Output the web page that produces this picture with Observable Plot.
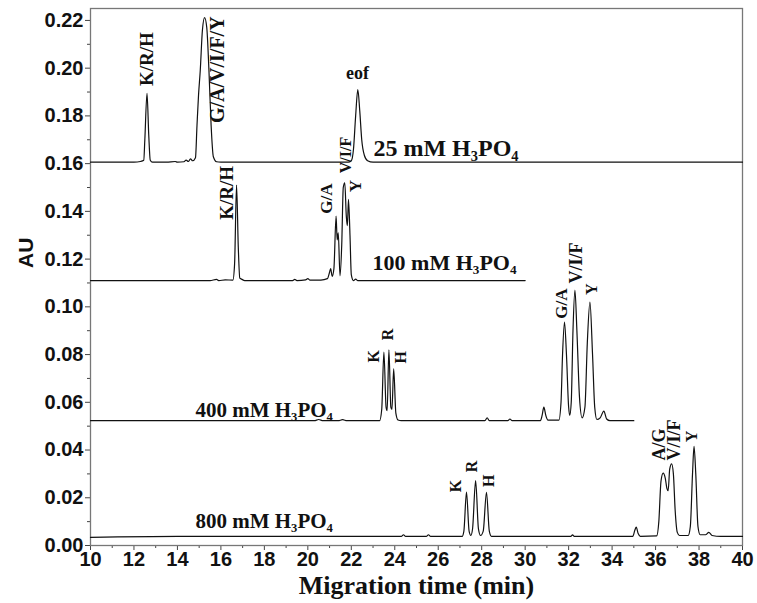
<!DOCTYPE html>
<html><head><meta charset="utf-8">
<script src="https://cdn.jsdelivr.net/npm/d3@7"></script>
<script src="https://cdn.jsdelivr.net/npm/@observablehq/plot@0.6"></script>
<style>body{margin:0;background:#fff} svg{display:block}</style>
</head><body><div id="chart"></div>
<script>
const xTicks = [10,12,14,16,18,20,22,24,26,28,30,32,34,36,38,40];
const xMinorTicks = [11,13,15,17,19,21,23,25,27,29,31,33,35,37,39];
const yTicks = [0,0.02,0.04,0.06,0.08,0.10,0.12,0.14,0.16,0.18,0.20,0.22];
const yMinorTicks = [0.01,0.03,0.05,0.07,0.09,0.11,0.13,0.15,0.17,0.19,0.21];

// [time (min), AU]
const trace25 = [[10,0.1606],[12.0,0.1606],[12.3,0.1609],[12.45,0.1614],[12.5,0.170],[12.6,0.1895],[12.68,0.172],[12.75,0.1614],[12.85,0.1606],[13.5,0.1606],[13.9,0.1609],[14.0,0.1606],[14.3,0.1608],[14.4,0.1615],[14.5,0.1609],[14.6,0.162],[14.7,0.1612],[14.83,0.1625],[14.9,0.176],[14.97,0.1886],[15.05,0.199],[15.15,0.216],[15.25,0.2212],[15.35,0.217],[15.45,0.199],[15.55,0.176],[15.65,0.163],[15.8,0.1608],[16,0.1606],[21.85,0.1606],[22.0,0.1612],[22.1,0.166],[22.2,0.180],[22.3,0.191],[22.39,0.182],[22.48,0.170],[22.6,0.1635],[22.75,0.1612],[23,0.1606],[40,0.1606]];
const trace100 = [[10,0.1110],[15.5,0.1110],[15.8,0.1115],[15.9,0.1110],[16.2,0.1113],[16.55,0.1112],[16.63,0.118],[16.72,0.151],[16.8,0.125],[16.87,0.112],[16.95,0.1116],[17.1,0.1110],[19.3,0.1110],[19.4,0.1115],[19.5,0.1110],[19.9,0.1113],[20.0,0.1118],[20.1,0.1112],[20.6,0.1112],[20.9,0.1118],[21.0,0.1145],[21.05,0.116],[21.12,0.1128],[21.2,0.116],[21.3,0.138],[21.35,0.128],[21.4,0.131],[21.48,0.113],[21.56,0.126],[21.63,0.150],[21.7,0.152],[21.77,0.138],[21.82,0.134],[21.87,0.145],[21.94,0.130],[22.0,0.1135],[22.1,0.1110],[22.2,0.1116],[22.3,0.1110],[30,0.1110]];
const trace400 = [[10,0.0523],[20.3,0.0523],[20.5,0.0528],[20.7,0.0523],[21.4,0.0523],[21.6,0.0527],[21.8,0.0523],[23.3,0.0523],[23.4,0.057],[23.5,0.081],[23.6,0.058],[23.65,0.0565],[23.73,0.082],[23.82,0.058],[23.87,0.057],[23.95,0.074],[24.05,0.0555],[24.15,0.0526],[24.3,0.0523],[28.15,0.0523],[28.25,0.0535],[28.35,0.0523],[29.2,0.0523],[29.3,0.053],[29.4,0.0523],[30.7,0.0523],[30.78,0.0545],[30.86,0.058],[30.95,0.0545],[31.05,0.0525],[31.55,0.0525],[31.65,0.060],[31.72,0.080],[31.81,0.0936],[31.9,0.080],[32.0,0.058],[32.05,0.0545],[32.12,0.060],[32.2,0.090],[32.29,0.107],[32.38,0.090],[32.5,0.062],[32.62,0.0535],[32.75,0.058],[32.86,0.085],[32.98,0.102],[33.1,0.080],[33.2,0.058],[33.3,0.0528],[33.45,0.0535],[33.62,0.0563],[33.75,0.053],[33.9,0.0523],[35,0.0523]];
const trace800 = [[10,0.0034],[14,0.0038],[24.3,0.0038],[24.4,0.0045],[24.5,0.0038],[25.45,0.0038],[25.55,0.0045],[25.65,0.0038],[27.1,0.0038],[27.18,0.006],[27.3,0.0224],[27.42,0.006],[27.5,0.0042],[27.58,0.007],[27.72,0.0272],[27.85,0.007],[27.95,0.0042],[28.07,0.006],[28.22,0.0223],[28.35,0.006],[28.45,0.0038],[32.1,0.0038],[32.18,0.0045],[32.26,0.0038],[34.95,0.0038],[35.05,0.0065],[35.11,0.0077],[35.2,0.005],[35.3,0.0038],[36.05,0.004],[36.15,0.010],[36.25,0.027],[36.35,0.0303],[36.45,0.028],[36.52,0.024],[36.58,0.023],[36.65,0.032],[36.74,0.0342],[36.82,0.030],[36.9,0.015],[37.0,0.0055],[37.1,0.0042],[37.5,0.0042],[37.6,0.008],[37.7,0.030],[37.77,0.0415],[37.85,0.030],[37.95,0.008],[38.05,0.0045],[38.3,0.0045],[38.45,0.0055],[38.6,0.0042],[39,0.0038],[40,0.0038]];

// peak labels: text, time, AU at text start (bottom), font size
const peakText = ["K/R/H","G/A/V/I/F/Y","K/R/H","G/A","V/I/F","Y","K","R","H","G/A","V/I/F","Y","K","R","H","A/G","V/I/F","Y"];
const peakTime = [12.58,15.85,16.26,20.86,21.75,22.2,23.03,23.7,24.27,31.67,32.36,33.06,26.8,27.57,28.33,36.15,36.84,37.68];
const peakAU   = [0.1925,0.177,0.1365,0.139,0.156,0.148,0.0767,0.086,0.0763,0.095,0.1098,0.105,0.0223,0.0307,0.0245,0.0356,0.0356,0.0433];
const peakSize = [19,20,19,17,16,17,16,16,16,17,18,16,16,16,16,18,18,16];

const eofText = ["eof"], eofTime = [22.29], eofAU = [0.1955];

const condText = ["25 mM H₃PO₄","100 mM H₃PO₄","400 mM H₃PO₄","800 mM H₃PO₄"];
const condTime = [23.02,22.98,14.83,14.83];
const condAU   = [0.1634,0.1153,0.054,0.0075];
const condSize = [24,22,21,21];

const rows = [];
[["25",trace25],["100",trace100],["400",trace400],["800",trace800]].forEach(([k,arr]) =>
  arr.forEach(([t,v]) => rows.push({trace:k,t,v})));
const peaks = peakText.map((s,i)=>({s,t:peakTime[i],v:peakAU[i],f:peakSize[i]}));
const conds = condText.map((s,i)=>({s,t:condTime[i],v:condAU[i],f:condSize[i]}));
const eofs = eofText.map((s,i)=>({s,t:eofTime[i],v:eofAU[i]}));

const serif = "'Liberation Serif','Times New Roman',serif";
const sans = "'Liberation Sans',Arial,sans-serif";

const chart = Plot.plot({
  width:757, height:603,
  marginLeft:90, marginRight:15, marginTop:8, marginBottom:58,
  x:{domain:[10,40]},
  y:{domain:[0,0.225]},
  style:{background:"#fff", color:"#111"},
  marks:[
    Plot.axisY(yMinorTicks,{tickSize:3, text:null, label:null, stroke:"#444"}),
    Plot.axisY(yTicks,{tickSize:5, tickPadding:2, tickFormat:d=>d.toFixed(2), label:null, fontSize:20, fontWeight:"bold", fontFamily:sans, stroke:"#444", fill:"#111"}),
    Plot.axisX(xMinorTicks,{tickSize:3, text:null, label:null, stroke:"#444"}),
    Plot.axisX(xTicks,{tickSize:5, tickPadding:1, label:null, fontSize:20, fontWeight:"bold", fontFamily:sans, stroke:"#444", fill:"#111"}),
    Plot.frame({stroke:"#777", strokeWidth:1.3}),
    Plot.line(rows,{x:"t", y:"v", z:"trace", curve:"monotone-x", stroke:"#111", strokeWidth:1.2}),
    Plot.text(peaks,{x:"t", y:"v", text:"s", rotate:-90, textAnchor:"start", lineAnchor:"middle", fontSize:"f", fontWeight:"bold", fontFamily:serif, fill:"#111"}),
    Plot.text(eofs,{x:"t", y:"v", text:"s", textAnchor:"middle", lineAnchor:"bottom", fontSize:18, fontWeight:"bold", fontFamily:serif, fill:"#111"}),
    Plot.text(conds,{x:"t", y:"v", text:"s", textAnchor:"start", lineAnchor:"bottom", fontSize:"f", fontWeight:"bold", fontFamily:serif, fill:"#111"}),
    Plot.text(["AU"],{frameAnchor:"left", dx:-64, dy:-9, rotate:-90, text:d=>d, fontSize:21, fontWeight:"bold", fontFamily:sans, fill:"#111"}),
    Plot.text(["Migration time (min)"],{frameAnchor:"bottom", dy:48, text:d=>d, fontSize:26, fontWeight:"bold", fontFamily:serif, fill:"#111"})
  ]
});
document.getElementById("chart").appendChild(chart);
</script>
</body></html>
